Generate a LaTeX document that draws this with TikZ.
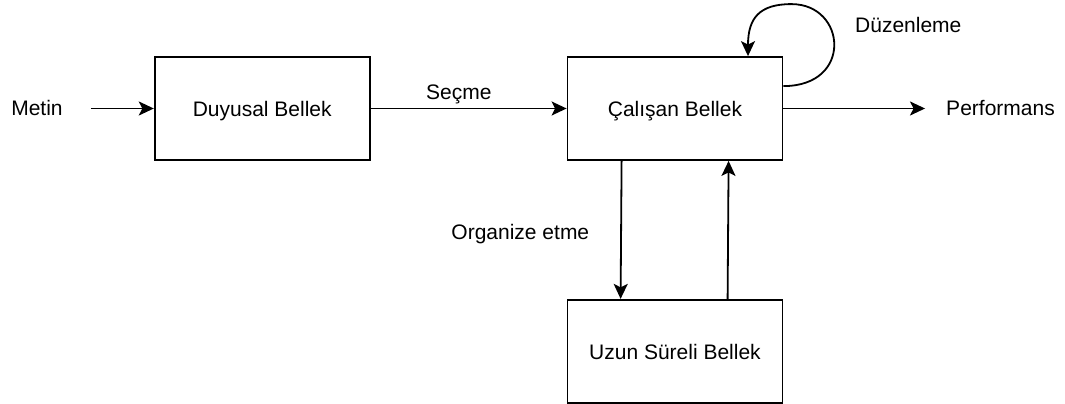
\documentclass[tikz,border=0pt]{standalone}
\usepackage{fontspec}
\setmainfont{Liberation Sans}
\usepackage{tikz}
\usetikzlibrary{shapes,arrows,positioning,calc,arrows.meta}
\tikzstyle{arrow} = [-{Stealth[length=15pt, width=14pt, inset=3.5pt]}, line width=1.8pt]
\tikzstyle{memory} = [rectangle, draw, line width=1.8pt, minimum width=215pt, minimum height=103pt, text height=17pt, text depth=0pt]
\tikzstyle{plain} = [inner sep=0pt, text height=17pt, text depth=0pt]

\begin{document}
\begin{tikzpicture}[x=1pt, y=1pt, font=\fontsize{21}{25}\selectfont]
    \useasboundingbox (0,0) rectangle (1065,404);

    % Memory stores
    \node[memory] (calisan) at (675,295.5) {Çalışan Bellek};
    \node[memory, left=196pt of calisan] (duyusal) {Duyusal Bellek};
    \node[memory, below=138pt of calisan] (uzun) {Uzun Süreli Bellek};

    % Input and output
    \node[plain] (metin) at (37,296.5) {Metin};
    \node[plain] (perf) at (1000.5,296.5) {Performans};
    \node[anchor=base west, inner sep=0pt] (duzen) at (855,371) {Düzenleme};

    % Arrows
    \draw[arrow, shorten <=28pt] (metin.east |- duyusal.west) -- (duyusal.west);
    \draw[arrow] (duyusal) -- node[pos=0.45, anchor=base, yshift=9pt] {Seçme} (calisan);
    \draw[arrow, shorten >=21pt] (calisan.east) -- (perf.west |- calisan.east);
    \draw[arrow] ($(calisan.south west)+(55,0)$) -- node[midway, anchor=base east, xshift=-31pt, yshift=-10pt, inner sep=0pt] {Organize etme} ($(uzun.north west)+(54,0)$);
    \draw[arrow] ($(uzun.north west)+(161,0)$) -- ($(calisan.south west)+(162,0)$);

    % Rehearsal loop
    \draw[arrow] ($(calisan.north east)+(0,-30)$) .. controls +(70,0) and +(55,0) .. ($(calisan.north east)+(8,52)$)
        .. controls +(-32,0) and +(0,38) .. ($(calisan.north)+(73,0)$);
\end{tikzpicture}
\end{document}
